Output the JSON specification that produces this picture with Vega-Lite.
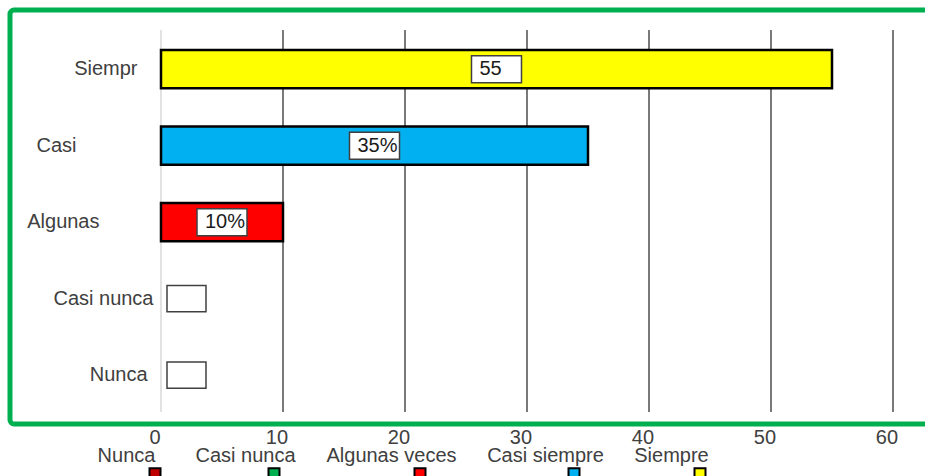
{
  "$schema": "https://vega.github.io/schema/vega-lite/v6.json",
  "width": 921,
  "height": 414,
  "autosize": {"type": "none"},
  "padding": {"left": 10, "top": 10, "right": -6, "bottom": 52},
  "background": "white",
  "config": {
    "font": "Liberation Sans",
    "view": {"stroke": "#00b050", "strokeWidth": 5, "cornerRadius": 4, "fill": "white"},
    "style": {"guide-label": {"lineHeight": 36.6}}
  },
  "datasets": {
    "responses": [
      {"cat": "Siempre", "short": "Siempr", "value": 55, "label": "55"},
      {"cat": "Casi siempre", "short": "Casi", "value": 35, "label": "35%"},
      {"cat": "Algunas veces", "short": "Algunas", "value": 10, "label": "10%"},
      {"cat": "Casi nunca", "short": "Casi nunca", "value": 0, "label": ""},
      {"cat": "Nunca", "short": "Nunca", "value": 0, "label": ""}
    ],
    "ticks": [
      {"tick": 0}, {"tick": 10}, {"tick": 20}, {"tick": 30}, {"tick": 40}, {"tick": 50}, {"tick": 60}
    ]
  },
  "layer": [
    {
      "data": {"name": "ticks"},
      "layer": [
        {
          "mark": {"type": "rule", "strokeWidth": 1.5},
          "encoding": {
            "x": {
              "field": "tick",
              "type": "quantitative",
              "scale": {"domain": [-12.377, 63.115], "nice": false, "zero": false},
              "axis": null
            },
            "y": {
              "datum": 0,
              "type": "quantitative",
              "scale": {"domain": [-0.0314, 1.0524], "nice": false, "zero": false},
              "axis": null
            },
            "y2": {"datum": 1},
            "color": {"condition": {"test": "datum.tick === 0", "value": "#d9d9d9"}, "value": "#4d4d4d"}
          }
        },
        {
          "mark": {"type": "text", "align": "center", "baseline": "top", "dx": -6, "dy": 3.5, "fontSize": 20, "color": "#404040"},
          "encoding": {
            "x": {
              "field": "tick",
              "type": "quantitative",
              "scale": {"domain": [-12.377, 63.115], "nice": false, "zero": false},
              "axis": null
            },
            "y": {"value": "height"},
            "text": {"field": "tick", "type": "quantitative"}
          }
        }
      ]
    },
    {
      "data": {"name": "responses"},
      "transform": [{"calculate": "datum.value > 0 ? datum.value / 2 : 2.09", "as": "mid"}],
      "encoding": {
        "y": {
          "field": "short",
          "type": "nominal",
          "sort": ["Siempr", "Casi", "Algunas", "Casi nunca", "Nunca"],
          "scale": {"paddingInner": 0.5, "paddingOuter": 0.456, "align": 0.5735},
          "axis": {
            "title": null,
            "domain": false,
            "ticks": false,
            "grid": false,
            "offset": -151,
            "labelFontSize": 20,
            "labelColor": "#404040",
            "labelLimit": 300,
            "labelPadding": {
              "condition": [
                {"test": "datum.value === 'Siempr'", "value": 24},
                {"test": "datum.value === 'Casi'", "value": 85},
                {"test": "datum.value === 'Algunas'", "value": 62},
                {"test": "datum.value === 'Nunca'", "value": 14}
              ],
              "value": 8
            }
          }
        }
      },
      "layer": [
        {
          "transform": [{"filter": "datum.value > 0"}],
          "mark": {"type": "bar", "stroke": "black", "strokeWidth": 2.5},
          "encoding": {
            "x": {
              "field": "value",
              "type": "quantitative",
              "scale": {"domain": [-12.377, 63.115], "nice": false, "zero": false},
              "axis": null
            },
            "fill": {
              "field": "cat",
              "type": "nominal",
              "scale": {
                "domain": ["Nunca", "Casi nunca", "Algunas veces", "Casi siempre", "Siempre"],
                "range": ["#c00000", "#00b050", "#ff0000", "#00b0f0", "#ffff00"]
              },
              "legend": {
                "title": null,
                "orient": "none",
                "legendX": 135,
                "legendY": 453.5,
                "direction": "horizontal",
                "columns": 5,
                "padding": 0,
                "symbolType": "square",
                "symbolSize": 121,
                "symbolStrokeColor": "black",
                "symbolStrokeWidth": 2,
                "labelFontSize": 20,
                "labelColor": "#404040",
                "labelAlign": "center",
                "labelOffset": -38.5,
                "labelBaseline": "line-bottom",
                "columnPadding": 30,
                "labelLimit": 300
              }
            }
          }
        },
        {
          "mark": {"type": "point", "filled": true, "fill": "white", "stroke": "#404040", "strokeWidth": 1.5, "opacity": 1},
          "encoding": {
            "x": {
              "field": "mid",
              "type": "quantitative",
              "scale": {"domain": [-12.377, 63.115], "nice": false, "zero": false},
              "axis": null
            },
            "shape": {
              "condition": {"test": "datum.value === 0", "value": "M-1,-0.667H1V0.667H-1Z"},
              "value": "M-1,-0.54H1V0.54H-1Z"
            },
            "size": {"condition": {"test": "datum.value === 0", "value": 1521}, "value": 2500}
          }
        },
        {
          "mark": {"type": "text", "align": "left", "baseline": "middle", "dx": -17, "fontSize": 20, "color": "#1a1a1a"},
          "encoding": {
            "x": {
              "field": "mid",
              "type": "quantitative",
              "scale": {"domain": [-12.377, 63.115], "nice": false, "zero": false},
              "axis": null
            },
            "text": {"field": "label"}
          }
        }
      ]
    }
  ],
  "resolve": {"scale": {"y": "independent"}}
}
